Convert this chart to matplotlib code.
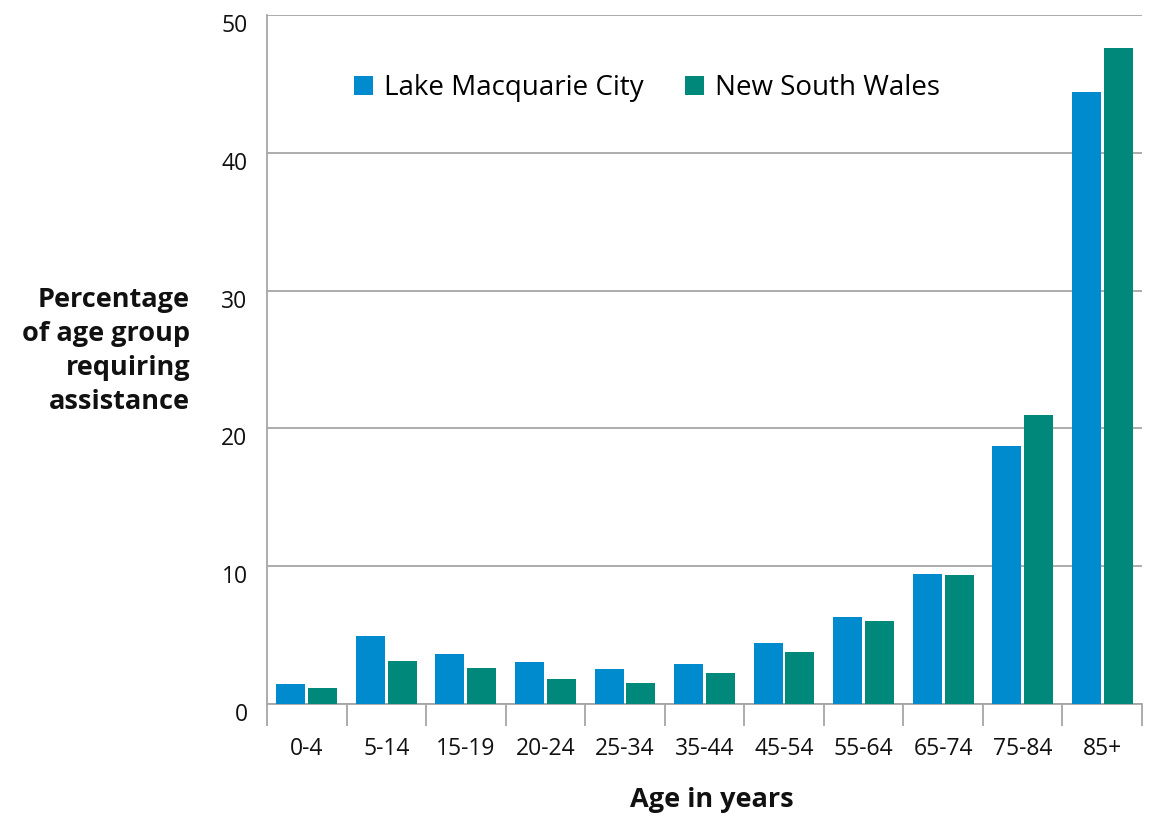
import matplotlib
matplotlib.use("Agg")
import matplotlib.pyplot as plt
import matplotlib.transforms as mtransforms
import numpy as np

categories = ["0-4", "5-14", "15-19", "20-24", "25-34", "35-44", "45-54", "55-64", "65-74", "75-84", "85+"]
lake_macquarie = [1.45, 4.93, 3.62, 3.04, 2.54, 2.9, 4.42, 6.30, 9.42, 18.7, 44.4]
nsw = [1.16, 3.12, 2.61, 1.81, 1.52, 2.25, 3.77, 6.01, 9.35, 20.94, 47.6]
series_names = ["Lake Macquarie City", "New South Wales"]
yticks = [0, 10, 20, 30, 40, 50]

BLUE = "#008BCE"
GREEN = "#00897B"
GRID = "#A6A6A6"

plt.rcParams['font.family'] = ['Open Sans', 'DejaVu Sans']

fig = plt.figure(figsize=(11.55, 8.16), dpi=100)
ax = fig.add_axes([267/1155, 1 - 704/816, (1142-267)/1155, (704-15)/816])

x = np.arange(len(categories))
w = 0.365
off = 0.2
ax.bar(x - off, lake_macquarie, width=w, color=BLUE, label=series_names[0], zorder=3)
ax.bar(x + off, nsw, width=w, color=GREEN, label=series_names[1], zorder=3)

ax.set_xlim(-0.5, len(categories) - 0.5)
ax.set_ylim(0, 50)
ax.set_yticks(yticks)
ax.set_yticklabels([str(v) for v in yticks], fontsize=16.5)
ax.yaxis.grid(True, color=GRID, linewidth=1.3, zorder=0)
ax.set_axisbelow(True)
ax.tick_params(axis='y', length=0, pad=14, labelcolor='#111111')
for lbl in ax.get_yticklabels():
    lbl.set_transform(lbl.get_transform() + mtransforms.ScaledTranslation(0, -8/100, fig.dpi_scale_trans))

# x ticks: labels at centers, marks at boundaries
ax.set_xticks(x)
ax.set_xticklabels(categories, fontsize=16.5, color='#111111')
ax.tick_params(axis='x', which='major', length=0, pad=24)
ax.set_xticks(np.arange(-0.5, len(categories) + 0.5, 1), minor=True)
ax.tick_params(axis='x', which='minor', length=16, width=1.3, color=GRID)

for s in ['top', 'right']:
    ax.spines[s].set_visible(False)
ax.spines['left'].set_color(GRID)
ax.spines['left'].set_linewidth(1.3)
ax.spines['bottom'].set_color(GRID)
ax.spines['bottom'].set_linewidth(1.3)

fig.text(190/1155, 1 - 351/816, "Percentage\nof age group\nrequiring\nassistance",
         ha='right', va='center', fontsize=19.5, fontweight='bold', linespacing=1.4, color='#111111')
fig.text(712/1155, 1 - 800/816, "Age in years", ha='center', va='center',
         fontsize=19.5, fontweight='bold', color='#111111')

leg = ax.legend(loc='upper left', bbox_to_anchor=((343-267)/(1142-267), 1 - (63-15)/(704-15)),
                ncol=2, frameon=False, fontsize=20, handlelength=0.68, handleheight=0.68,
                handletextpad=0.4, columnspacing=1.5, borderaxespad=0)

fig.savefig("out.png", dpi=100, facecolor='white')
